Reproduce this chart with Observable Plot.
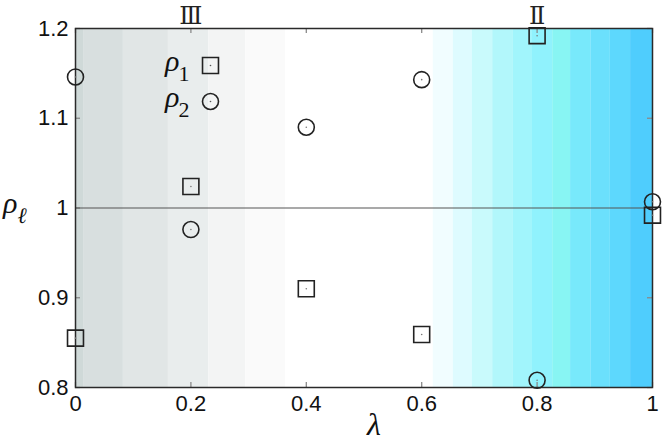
<!DOCTYPE html>
<html><head><meta charset="utf-8">
<script src="https://cdn.jsdelivr.net/npm/d3@7"></script>
<script src="https://cdn.jsdelivr.net/npm/@observablehq/plot@0.6"></script>
<style>body{margin:0;background:#fff} svg{display:block}</style>
</head><body><div id="chart"></div>
<script>
// Data
const lambda = [0, 0.2, 0.4, 0.6, 0.8, 1];
const rho1 = [0.855, 1.024, 0.910, 0.859, 1.192, 0.992];
const rho2 = [1.146, 0.976, 1.090, 1.143, 0.808, 1.007];
const xTicks = [0, 0.2, 0.4, 0.6, 0.8, 1];
const xTickLabels = ["0", "0.2", "0.4", "0.6", "0.8", "1"];
const yTicks = [0.8, 0.9, 1, 1.1, 1.2];
const yTickLabels = ["0.8", "0.9", "1", "1.1", "1.2"];
const grayEdges = [0, 0.014, 0.083, 0.161, 0.231, 0.295, 0.364];
const grayColors = ["#cfd9d8", "#d8dfdf", "#e1e6e6", "#e9eded", "#f3f4f4", "#fafafa"];
const cyanEdges = [0.620, 0.655, 0.688, 0.723, 0.759, 0.792, 0.827, 0.858, 0.893, 0.927, 0.962, 1];
const cyanColors = ["#f1fdff", "#defbff", "#c9fafc", "#b2f7fb", "#a1f5fc", "#90f2fd", "#88f5f3", "#78e9fb", "#6be0fc", "#5dd8fd", "#4fcdfd"];
const regionLambda = [0.2, 0.8];
const regionLabels = ["Ⅲ", "Ⅱ"];
const seriesName = "ρ";
const seriesSubs = ["1", "2"];
const yLabel = "ρ", yLabelSub = "ℓ", xLabel = "λ";

const xDomain = [0, 1], yDomain = [0.8, 1.2];
const bands = [
  ...grayColors.map((c, i) => ({x1: grayEdges[i], x2: grayEdges[i + 1], fill: c})),
  ...cyanColors.map((c, i) => ({x1: cyanEdges[i], x2: cyanEdges[i + 1], fill: c}))
];
const pts1 = lambda.map((l, i) => ({l, v: rho1[i]}));
const pts2 = lambda.map((l, i) => ({l, v: rho2[i]}));
const regions = regionLambda.map((l, i) => ({l, label: regionLabels[i]}));

const sans = "Liberation Sans, Arial, Helvetica, sans-serif";
const serif = "Liberation Serif, DejaVu Serif, Times New Roman, serif";
const tickStroke = {stroke: "#8a8a8a", strokeWidth: 1.3};
const markStyle = {stroke: "#222", strokeWidth: 1.6};
const ital = {fontStyle: "italic", fontFamily: serif, fill: "#111", frameAnchor: "top-left", lineAnchor: "bottom"};

function legendEntry(i, symbol, r) {
  const dy = 37 + 36 * i;
  return [
    Plot.dot([0], {frameAnchor: "top-left", dx: 135, dy, symbol, r, ...markStyle}),
    Plot.dot([0], {frameAnchor: "top-left", dx: 135, dy, r: 0.8, fill: "#555"}),
    Plot.text([seriesName], {text: (d) => d, dx: 104, dy: dy + 5, fontSize: 30, textAnchor: "end", ...ital}),
    Plot.text([seriesSubs[i]], {text: (d) => d, dx: 103, dy: dy + 15, fontSize: 22, textAnchor: "start", ...ital, fontStyle: "normal"})
  ];
}

const chart = Plot.plot({
  width: 664,
  height: 441,
  marginLeft: 75,
  marginRight: 12,
  marginTop: 28,
  marginBottom: 54,
  style: {fontFamily: sans, background: "#fff", overflow: "visible"},
  x: {domain: xDomain},
  y: {domain: yDomain},
  color: {type: "identity"},
  marks: [
    Plot.rectX(bands, {x1: "x1", x2: "x2", fill: "fill", y1: yDomain[0], y2: yDomain[1]}),
    // inward ticks on all four sides
    Plot.ruleX(xTicks, {x: (d) => d, y1: yDomain[0], y2: yDomain[0], insetTop: -5, ...tickStroke}),
    Plot.ruleX(xTicks, {x: (d) => d, y1: yDomain[1], y2: yDomain[1], insetTop: 5, ...tickStroke}),
    Plot.ruleY(yTicks, {y: (d) => d, x1: xDomain[0], x2: xDomain[0], insetLeft: 5, ...tickStroke}),
    Plot.ruleY(yTicks, {y: (d) => d, x1: xDomain[1], x2: xDomain[1], insetLeft: -5, ...tickStroke}),
    // tick labels
    Plot.axisX(xTicks, {anchor: "bottom", tickSize: 0, tickPadding: 8, fontSize: 22, fill: "#111",
      tickFormat: (d) => xTickLabels[xTicks.indexOf(d)], label: null}),
    Plot.axisY(yTicks, {anchor: "left", tickSize: 0, tickPadding: 7, fontSize: 22, fill: "#111",
      tickFormat: (d) => yTickLabels[yTicks.indexOf(d)], label: null}),
    Plot.ruleY([1], {stroke: "#555", strokeWidth: 1.2}),
    Plot.frame({stroke: "#2a2a2a", strokeWidth: 1.5}),
    // data
    Plot.dot(pts1, {x: "l", y: "v", symbol: "square", r: 9, ...markStyle}),
    Plot.dot(pts2, {x: "l", y: "v", symbol: "circle", r: 8, ...markStyle}),
    Plot.dot([...pts1, ...pts2], {x: "l", y: "v", r: 0.8, fill: "#777"}),
    // region labels
    Plot.text(regions, {x: "l", text: "label", frameAnchor: "top", lineAnchor: "bottom", dy: -5, fontSize: 24, fontFamily: serif, fill: "#222"}),
    // legend
    ...legendEntry(0, "square", 9),
    ...legendEntry(1, "circle", 8),
    // axis labels
    Plot.text([yLabel], {text: (d) => d, fontSize: 30, textAnchor: "end", ...ital, frameAnchor: "left", dx: -58, dy: 5}),
    Plot.text([yLabelSub], {text: (d) => d, fontSize: 22, textAnchor: "start", ...ital, frameAnchor: "left", dx: -58, dy: 15}),
    Plot.text([xLabel], {text: (d) => d, fontSize: 32, textAnchor: "middle", ...ital, frameAnchor: "bottom", dx: 10, dy: 47})
  ]
});
document.getElementById("chart").append(chart);
</script></body></html>
